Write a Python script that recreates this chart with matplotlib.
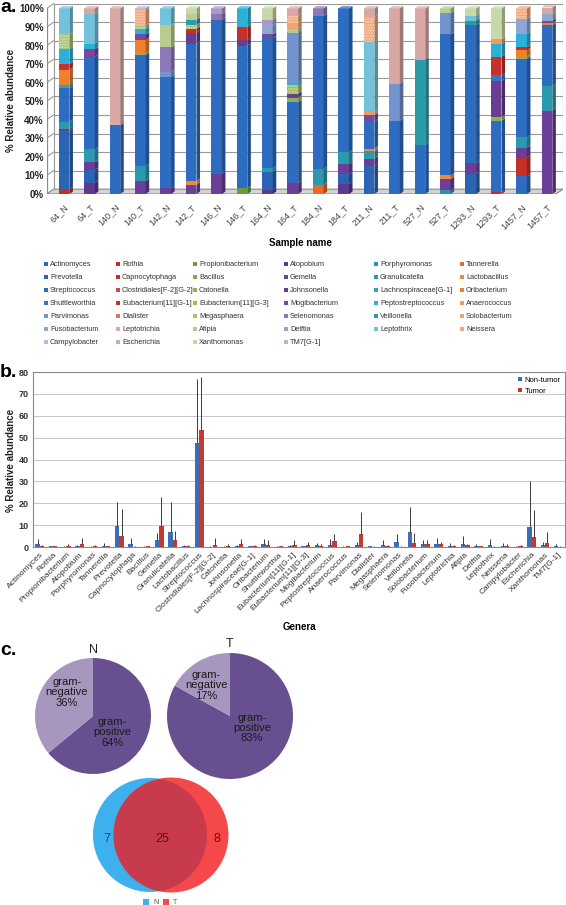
import numpy as np
import matplotlib
matplotlib.use('Agg')
import matplotlib.pyplot as plt
from matplotlib.patches import Polygon, Rectangle, Circle
from matplotlib.colors import to_rgb

plt.rcParams['font.family'] = ['Liberation Sans', 'DejaVu Sans']

W, H = 566, 905

# ---------------- data ----------------
samples = ['64_N', '64_T', '140_N', '140_T', '142_N', '142_T', '146_N', '146_T',
           '164_N', '164_T', '184_N', '184_T', '211_N', '211_T', '527_N', '527_T',
           '1293_N', '1293_T', '1457_N', '1457_T']

# legend order (row by row), also stacking order bottom -> top
legend_names = ['Actinomyces', 'Rothia', 'Propionibacterium', 'Atopobium', 'Porphyromonas', 'Tannerella',
                'Prevotella', 'Capnocytophaga', 'Bacillus', 'Gemella', 'Granulicatella', 'Lactobacillus',
                'Streptococcus', 'Clostridiales[F-2][G-2]', 'Catonella', 'Johnsonella', 'Lachnospiraceae[G-1]', 'Oribacterium',
                'Shuttleworthia', 'Eubacterium[11][G-1]', 'Eubacterium[11][G-3]', 'Mogibacterium', 'Peptostreptococcus', 'Anaerococcus',
                'Parvimonas', 'Dialister', 'Megasphaera', 'Selenomonas', 'Veillonella', 'Solobacterium',
                'Fusobacterium', 'Leptotrichia', 'Afipia', 'Delftia', 'Leptothrix', 'Neissera',
                'Campylobacter', 'Escherichia', 'Xanthomonas', 'TM7[G-1]']

# panel a: % relative abundance per sample (only genera with a visible share)
a_actinomyces   = [0, 0, 0, 0, 0, 0, 0, 0, 0, 0, 0, 0, 0, 0, 0, 0, 0, 0, 9.5, 0]
a_rothia        = [2.5, 0, 0, 0, 0, 0, 0, 0, 0, 0, 0, 0, 0, 0, 0, 0, 0, 1, 0, 0]
a_propioni      = [0, 0, 0, 0, 0, 0, 0, 3, 0, 0, 0, 0, 0, 0, 0, 0, 0, 0, 0, 0]
a_atopobium     = [0, 6, 0, 0, 0, 0, 0, 0, 2, 0, 0, 5.5, 0, 0, 0, 0, 0, 0, 0, 0]
a_porphyromonas = [0, 0, 0, 0, 0, 0, 0, 0, 0, 0, 0, 0, 0, 0, 0, 2, 0, 0, 0, 0]
a_tannerella    = [0, 0, 0, 0, 0, 0, 0, 0, 0, 0, 5, 0, 0, 0, 0, 0, 0, 0, 0, 0]
a_prevotella    = [31.5, 7, 0, 0, 0, 0, 0, 0, 10, 0, 0, 5.5, 15, 0, 0, 0, 11, 0, 0, 0]
a_capnocyto     = [0, 0, 0, 0, 0, 0, 0, 0, 0, 0, 0, 0, 0, 0, 0, 0, 0, 0, 10, 0]
a_gemella       = [1, 4, 0, 7, 3, 5, 11, 0, 0, 6, 0, 5, 4, 0, 0, 6, 5.5, 0, 5.5, 45]
a_granulicatella = [4, 7, 0, 8, 0, 0, 0, 0, 2, 0, 8.5, 6.5, 4, 0, 0, 0, 0, 0, 5.5, 13]
a_lactobacillus = [0, 0, 0, 0, 0, 2, 0, 0, 0, 0, 0, 0, 1.5, 0, 0, 2, 0, 0, 0, 0]
a_streptococcus = [18, 50, 37, 60, 60, 74, 83, 77, 70, 43.5, 82.5, 77.5, 14.5, 39.5, 26.5, 76, 74.5, 38.5, 42.5, 33]
a_catonella     = [0, 0, 0, 1, 0, 0, 0, 0, 0, 2.5, 0, 0, 0, 0, 0, 0, 0, 2, 1, 0]
a_johnsonella   = [0, 0, 0, 0, 0, 6, 0, 3, 0, 2, 0, 0, 0, 0, 0, 0, 0, 19.5, 0, 0]
a_lachno        = [2, 0, 0, 0, 0, 0, 0, 0, 0, 0, 0, 0, 0, 0, 0, 0, 0, 0, 0, 0]
a_oribacterium  = [8, 0, 0, 7, 0, 0, 0, 0, 0, 0, 0, 0, 0, 0, 0, 0, 0, 0, 3.5, 1]
a_shuttleworthia = [0, 0, 0, 0, 0, 0, 0, 0, 0, 0, 0, 0, 0, 0, 0, 0, 0, 3, 0, 0]
a_eub_g1        = [3, 0, 0, 0, 0, 2, 0, 7, 0, 0, 0, 0, 0, 0, 0, 0, 0, 10, 1.5, 0]
a_eub_g3        = [0, 0, 0, 0, 0, 0, 0, 0, 0, 4.5, 0, 0, 0, 0, 0, 0, 0, 0, 0, 0]
a_mogibacterium = [0, 4, 0, 3, 0, 0, 0, 0, 2, 0, 0, 0, 3.5, 0, 0, 0, 0, 0, 0, 1.5]
a_peptostrep    = [8, 3, 0, 3, 0, 0, 0, 10, 0, 1.5, 0, 0, 0, 0, 0, 0, 0, 7, 7.5, 0]
a_anaerococcus  = [0, 0, 0, 0, 0, 0, 0, 0, 0, 0, 0, 0, 1.5, 0, 0, 0, 0, 2.5, 0, 0]
a_parvimonas    = [0, 0, 0, 0, 3, 0, 0, 0, 0, 27, 0, 0, 0, 20, 0, 11.5, 0, 0, 0, 0]
a_megasphaera   = [8, 0, 0, 2, 0, 2, 0, 0, 0, 2, 0, 0, 0, 0, 0, 0, 0, 0, 0, 0]
a_selenomonas   = [0, 0, 0, 0, 13, 0, 3, 0, 0, 0, 4, 0, 0, 0, 0, 0, 0, 0, 0, 0]
a_veillonella   = [0, 0, 0, 0, 0, 3, 0, 0, 0, 0, 0, 0, 0, 0, 46, 0, 2.5, 0, 0, 0]
a_solobacterium = [0, 0, 0, 0, 0, 0, 0, 0, 0, 3, 0, 0, 0, 0, 0, 0, 0, 0, 0, 0]
a_fusobacterium = [0, 0, 0, 0, 0, 0, 0, 0, 5, 0, 0, 0, 0, 0, 0, 0, 0, 0, 8, 3.5]
a_afipia        = [0, 0, 0, 0, 12, 3, 0, 0, 0, 0, 0, 0, 0, 0, 0, 2.5, 0, 0, 0, 0]
a_delftia       = [0, 0, 0, 0, 0, 0, 3, 0, 3, 0, 0, 0, 0, 0, 0, 0, 0, 0, 0, 0]
a_leptothrix    = [14, 16, 0, 0, 9, 0, 0, 0, 0, 0, 0, 0, 38, 0, 0, 0, 2.5, 0, 0, 0]
a_neisseria     = [0, 0, 0, 8, 0, 0, 0, 0, 0, 4, 0, 0, 13.5, 0, 0, 0, 0, 0, 5.5, 0]
a_escherichia   = [0, 3, 63, 0, 0, 0, 0, 0, 0, 4, 0, 0, 4.5, 40.5, 27.5, 0, 0, 0, 0, 3.5]
a_xanthomonas   = [0, 0, 0, 0, 0, 3, 0, 0, 6, 0, 0, 0, 0, 0, 0, 0, 4, 16.5, 0, 0]
a_tm7           = [0, 0, 0, 1, 0, 0, 0, 0, 0, 0, 0, 0, 0, 0, 0, 0, 0, 0, 0, 0]

# panel b: mean % and SD per genus, non-tumor / tumor
genus_labels = ['Actinomyces', 'Rothia', 'Propionibacterium', 'Atopobium', 'Porphyromonas', 'Tannerella',
                'Prevotella', 'Capnocytophaga', 'Bacillus', 'Gemella', 'Granulicatella', 'Lactobacillus',
                'Streptococcus', 'Clostridiales[F-2][G-2]', 'Catonella', 'Johnsonella', 'Lachnospiraceae[G-1]',
                'Oribacterium', 'Shuttleworthia', 'Eubacterium[11][G-1]', 'Eubacterium[11][G-3]', 'Mogibacterium',
                'Peptostreptococcus', 'Anaerococcus', 'Parvimonas', 'Dialister', 'Megasphaera', 'Selenomonas',
                'Veillonella', 'Solobacterium', 'Fusobacterium', 'Leptotrichia', 'Afipia', 'Delftia', 'Leptothrix',
                'Neisseria', 'Campylobacter', 'Escherichia', 'Xanthomonas', 'TM7[G-1]']
mean_n = [1.2, 0.3, 0.2, 0.5, 0.2, 0.5, 9.5, 1.3, 0.2, 3.0, 7.0, 0.3, 47.5, 0.2, 0.2, 0.5, 0.3, 1.2, 0.2, 0.5,
          0.3, 0.8, 1.0, 0.2, 1.0, 0.3, 0.8, 2.2, 6.8, 1.2, 1.3, 0.5, 1.5, 0.3, 1.0, 0.5, 0.2, 9.0, 0.8, 0.3]
sd_n = [2.6, 0.1, 0.1, 0.5, 0.1, 1.3, 11.0, 3.0, 0.1, 3.3, 13.7, 0.5, 29.5, 0.1, 0.1, 0.5, 0.2, 2.6, 0.3, 0.5,
        0.2, 1.0, 2.5, 0.1, 1.2, 0.2, 2.2, 3.8, 11.7, 1.8, 2.7, 1.5, 3.5, 0.9, 2.8, 1.3, 0.1, 21.0, 1.5, 0.9]
mean_t = [0.5, 0.3, 0.5, 1.5, 0.3, 0.3, 5.0, 0.2, 0.3, 9.5, 3.2, 0.5, 53.5, 1.0, 0.5, 1.5, 0.5, 1.0, 0.3, 1.0,
          0.8, 0.5, 2.8, 0.3, 6.0, 0.2, 0.5, 0.2, 1.8, 1.3, 1.2, 0.3, 0.8, 0.3, 0.2, 0.5, 0.3, 4.5, 1.8, 0.2]
sd_t = [0.3, 0.1, 0.7, 2.5, 0.5, 0.2, 12.3, 0.1, 0.1, 13.5, 4.3, 0.5, 24.0, 3.2, 0.8, 2.3, 0.5, 2.0, 0.1, 2.0,
        1.7, 0.7, 3.2, 0.2, 9.8, 0.1, 0.3, 0.1, 4.5, 1.7, 1.3, 0.7, 0.7, 0.2, 0.1, 1.0, 0.7, 12.5, 5.0, 0.1]

# panel c
gram_labels = ['gram-\npositive', 'gram-\nnegative']
gram_n = [64, 36]
gram_t = [83, 17]
venn_only_n, venn_shared, venn_only_t = 7, 25, 8

# ---------------- styling ----------------
blues = ['#2F6BBF', '#2B63B5', '#2E6CC2', '#3A74C6', '#7393CF', '#8EA7D6', '#AEBFE2']
reds = ['#C0302B', '#C43028', '#C0504D', '#C8302A', '#D77470', '#E3A9A4', '#D7A8A5']
greens = ['#6F9A3B', '#7FA846', '#8DB255', '#9BBB59', '#A6C474', '#B7CD90', '#C8D8A8']
purples = ['#5E3A8C', '#6B3E98', '#6A3C92', '#74499E', '#8C78B8', '#A99BC8', '#BCB0D6']
teals = ['#2A95A8', '#2C9AAE', '#30A3B5', '#2BB0D8', '#2A9BA8', '#72C2D9']
oranges = ['#E56C2A', '#F08A3A', '#F07F2E', '#F29A5C', '#F4A56E', '#F2A77A']
palette = [blues, reds, greens, purples, teals, oranges]
colors_a = [palette[i % 6][i // 6] for i in range(len(legend_names))]
hatched = {'Megasphaera', 'Neissera', 'Eubacterium[11][G-3]'}

abund_a = {'Actinomyces': a_actinomyces, 'Rothia': a_rothia, 'Propionibacterium': a_propioni,
           'Atopobium': a_atopobium, 'Porphyromonas': a_porphyromonas, 'Tannerella': a_tannerella,
           'Prevotella': a_prevotella, 'Capnocytophaga': a_capnocyto, 'Gemella': a_gemella,
           'Granulicatella': a_granulicatella, 'Lactobacillus': a_lactobacillus,
           'Streptococcus': a_streptococcus, 'Catonella': a_catonella, 'Johnsonella': a_johnsonella,
           'Lachnospiraceae[G-1]': a_lachno, 'Oribacterium': a_oribacterium,
           'Shuttleworthia': a_shuttleworthia, 'Eubacterium[11][G-1]': a_eub_g1,
           'Eubacterium[11][G-3]': a_eub_g3, 'Mogibacterium': a_mogibacterium,
           'Peptostreptococcus': a_peptostrep, 'Anaerococcus': a_anaerococcus,
           'Parvimonas': a_parvimonas, 'Megasphaera': a_megasphaera, 'Selenomonas': a_selenomonas,
           'Veillonella': a_veillonella, 'Solobacterium': a_solobacterium,
           'Fusobacterium': a_fusobacterium, 'Afipia': a_afipia, 'Delftia': a_delftia,
           'Leptothrix': a_leptothrix, 'Neissera': a_neisseria, 'Escherichia': a_escherichia,
           'Xanthomonas': a_xanthomonas, 'TM7[G-1]': a_tm7}


def shade(c, f):
    r = np.array(to_rgb(c))
    return tuple(np.clip(r * f, 0, 1))


def tint(c, f):
    r = np.array(to_rgb(c))
    return tuple(r + (1 - r) * f)


fig = plt.figure(figsize=(W / 100, H / 100), dpi=100)


def px_axes(l, t, r, b):
    return fig.add_axes([l / W, 1 - b / H, (r - l) / W, (b - t) / H])


# ---------------- a. stacked 3D-ish columns ----------------
ax = px_axes(46.5, 3, 563, 194)
x = np.arange(len(samples))
bw = 0.42
dx, dy = 0.14, 1.3
x_lo, x_hi = -0.69, 19.63
ax.set_xlim(x_lo, x_hi)
ax.set_ylim(0, 100 * 191 / 185.5)

# walls, floor and gridlines
for v in range(10, 101, 10):
    ax.plot([x_lo + 2 * dx, x_hi], [v + 2 * dy, v + 2 * dy], color='#9A9A9A', lw=0.8, zorder=0)
    ax.plot([x_lo, x_lo + 2 * dx], [v, v + 2 * dy], color='#9A9A9A', lw=0.8, zorder=0)
ax.plot([x_lo + 2 * dx, x_lo + 2 * dx], [2 * dy, 100 + 2 * dy], color='#9A9A9A', lw=0.8, zorder=0)
ax.plot([x_hi, x_hi], [2 * dy, 100 + 2 * dy], color='#9A9A9A', lw=0.8, zorder=0)
ax.add_patch(Polygon([(x_lo, 0), (x_hi - 2 * dx, 0), (x_hi, 2 * dy), (x_lo + 2 * dx, 2 * dy)],
                     closed=True, fc='#D4D4D4', ec='#8A8A8A', lw=0.8, zorder=0.5))
ax.plot([x_lo, x_lo], [0, 100], color='#8A8A8A', lw=0.9, zorder=0.5)

bottom = np.zeros(len(samples))
top_color = [None] * len(samples)
for g, c in zip(legend_names, colors_a):
    if g not in abund_a:
        continue
    vals = np.array(abund_a[g], dtype=float)
    h = '......' if g in hatched else None
    ax.bar(x, vals, bw, bottom=bottom, color=c, edgecolor=tint(c, 0.55) if h else c,
           linewidth=0, hatch=h, zorder=2)
    for i in range(len(samples)):
        if vals[i] <= 0:
            continue
        y0, y1 = bottom[i], bottom[i] + vals[i]
        xr = x[i] + bw / 2
        ax.add_patch(Polygon([(xr, y0), (xr + dx, y0 + dy), (xr + dx, y1 + dy), (xr, y1)],
                             closed=True, fc=shade(c, 0.72), ec='none', zorder=2))
        top_color[i] = c
    bottom = bottom + vals

for i in range(len(samples)):
    xl, xr, yt = x[i] - bw / 2, x[i] + bw / 2, bottom[i]
    ax.add_patch(Polygon([(xl, yt), (xl + dx, yt + dy), (xr + dx, yt + dy), (xr, yt)],
                         closed=True, fc=tint(top_color[i], 0.3), ec='none', zorder=2))

ax.set_yticks(range(0, 101, 10))
ax.set_yticklabels([f'{v}%' for v in range(0, 101, 10)], fontsize=7, fontweight='bold', color='#222222')
ax.set_xticks(x)
ax.set_xticklabels(samples, rotation=45, ha='right', rotation_mode='anchor', fontsize=6.5, color='#444444')
ax.tick_params(axis='y', length=0, pad=2)
ax.tick_params(axis='x', length=0, pad=6)
for s in ax.spines.values():
    s.set_visible(False)
ax.patch.set_visible(False)

# ---------------- b. mean abundance per genus ----------------
axb = px_axes(33, 372, 565, 547)
xb = np.arange(len(genus_labels))
bwb = 0.32
axb.set_xlim(-0.5, len(genus_labels) - 0.5)
axb.set_ylim(0, 80)
axb.set_yticks(range(0, 81, 10))
axb.yaxis.grid(True, color='#C8C8C8', lw=0.7)
axb.set_axisbelow(True)
axb.bar(xb - bwb / 2, mean_n, bwb, color='#3C6EB8', label='Non-tumor', zorder=2)
axb.bar(xb + bwb / 2, mean_t, bwb, color='#C23B33', label='Tumor', zorder=2)
axb.errorbar(xb - bwb / 2, mean_n, yerr=[np.zeros(len(sd_n)), sd_n], fmt='none',
             ecolor='#3A3A3A', elinewidth=0.7, capsize=0, zorder=3)
axb.errorbar(xb + bwb / 2, mean_t, yerr=[np.zeros(len(sd_t)), sd_t], fmt='none',
             ecolor='#3A3A3A', elinewidth=0.7, capsize=0, zorder=3)
axb.set_xticks(xb)
axb.set_xticklabels(genus_labels, rotation=45, ha='right', rotation_mode='anchor',
                    fontsize=6, color='#333333')
axb.tick_params(axis='x', length=0, pad=3)
axb.tick_params(axis='y', length=0, pad=3, labelsize=6.5, labelcolor='#333333')
for t in axb.get_yticklabels():
    t.set_fontweight('bold')
for s in axb.spines.values():
    s.set_color('#8A8A8A')
    s.set_linewidth(0.8)
axb.legend(loc='upper right', fontsize=5.5, frameon=False, handlelength=0.6, handleheight=0.6,
           handletextpad=0.3, borderaxespad=0.2, labelspacing=0.5)

# ---------------- c. pies ----------------
pie_text = dict(fontsize=8, color='#1A1A1A', ha='center', va='center', linespacing=1.05)
for (cx, cy, r), vals, lab, pos_xy, neg_xy in [
        ((93, 716, 58), gram_n, 'N', (0.33, -0.28), (-0.45, 0.41)),
        ((230, 716, 63), gram_t, 'T', (0.35, -0.19), (-0.38, 0.49))]:
    axp = px_axes(cx - r, cy - r, cx + r, cy + r)
    axp.pie(vals, colors=['#684F8F', '#A797BF'], startangle=90, counterclock=False,
            wedgeprops=dict(linewidth=0))
    axp.set_xlim(-1, 1)
    axp.set_ylim(-1, 1)
    axp.text(pos_xy[0], pos_xy[1], f'{gram_labels[0]}\n{vals[0]}%', **pie_text)
    axp.text(neg_xy[0], neg_xy[1], f'{gram_labels[1]}\n{vals[1]}%', **pie_text)
    axp.text(0, 1.04, lab, fontsize=9, ha='center', va='bottom', color='#222222')

# ---------------- overlay: labels, legend, venn ----------------
ov = fig.add_axes([0, 0, 1, 1])
ov.set_xlim(0, W)
ov.set_ylim(H, 0)
ov.axis('off')
ov.patch.set_visible(False)

ov.text(0, 12, 'a.', fontsize=14, fontweight='bold', va='baseline')
ov.text(0, 377, 'b.', fontsize=14, fontweight='bold', va='baseline')
ov.text(0, 655, 'c.', fontsize=14, fontweight='bold', va='baseline')
ov.text(11, 100, '% Relative abundance', rotation=90, ha='center', va='center',
        fontsize=7, fontweight='bold', color='#222222')
ov.text(11, 460, '% Relative abundance', rotation=90, ha='center', va='center',
        fontsize=7, fontweight='bold', color='#222222')
ov.text(300, 243, 'Sample name', ha='center', va='center', fontsize=7, fontweight='bold')
ov.text(299, 627, 'Genera', ha='center', va='center', fontsize=7, fontweight='bold')

# legend of panel a, row by row
col_x = [46, 118, 195, 286, 376, 462]
for i, (g, c) in enumerate(zip(legend_names, colors_a)):
    r, k = divmod(i, 6)
    lx, ly = col_x[k], 264 + 13 * r
    ov.add_patch(Rectangle((lx - 2, ly - 2), 4, 4, fc=c, ec='none'))
    ov.text(lx + 4, ly, g, fontsize=5.3, va='center', ha='left', color='#333333')

# venn
blue_c = Circle((150, 835), 57, fc='#3FB0EE', ec='none')
red_c = Circle((171, 835), 57.5, fc='#F4484A', ec='none')
ov.add_patch(blue_c)
ov.add_patch(red_c)
both = Circle((171, 835), 57.5, fc='#C83B4C', ec='none')
ov.add_patch(both)
both.set_clip_path(blue_c)
ov.text(107, 839, str(venn_only_n), fontsize=9, ha='center', va='center', color='#1C4B88')
ov.text(162, 839, str(venn_shared), fontsize=9, ha='center', va='center', color='#5A1020')
ov.text(217, 839, str(venn_only_t), fontsize=9, ha='center', va='center', color='#6A1212')
ov.add_patch(Rectangle((143, 899), 6, 6, fc='#3FB0EE', ec='none'))
ov.text(153, 902, 'N', fontsize=5, va='center', color='#555555')
ov.add_patch(Rectangle((163, 899), 6, 6, fc='#F4484A', ec='none'))
ov.text(173, 902, 'T', fontsize=5, va='center', color='#555555')

fig.savefig('out.png', dpi=100)
